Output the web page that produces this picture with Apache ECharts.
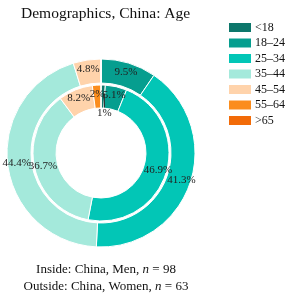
<!DOCTYPE html>
<html><head><meta charset="utf-8">
<script src="https://cdn.jsdelivr.net/npm/echarts@6/dist/echarts.min.js"></script>
<style>html,body{margin:0;padding:0;background:#fff}#c{width:288px;height:293px}</style>
</head><body><div id="c"></div>
<script>
var categories = ['<18', '18–24', '25–34', '35–44', '45–54', '55–64', '>65'];
var colors = ['#0d776b', '#069e8f', '#02c6b6', '#a4e9db', '#ffd3ab', '#fb8d1d', '#f26b08'];
var menValues = [1, 5, 46, 36, 8, 2, 0];      // inside, n = 98
var womenValues = [0, 6, 26, 28, 3, 0, 0];    // outside, n = 63

function sum(a){ return a.reduce(function(s,v){return s+v;},0); }
function pctText(v, total){
  var s = (v/total*100).toFixed(1);
  if (s.slice(-2) === '.0') s = s.slice(0, -2);
  return s + '%';
}
function buildData(vals){
  return vals.map(function(v,i){ return {name: categories[i], value: v, itemStyle:{color: colors[i]}}; });
}
var FONT = '"Liberation Serif", "DejaVu Serif", serif';
var chart = echarts.init(document.getElementById('c'));
var menTotal = sum(menValues), womenTotal = sum(womenValues);

chart.setOption({
  animation: false,
  title: [{
    text: 'Demographics, China: Age',
    left: 16, top: 1,
    textStyle: {fontFamily: FONT, fontSize: 15.5, fontWeight: 'normal', color: '#111'}
  }, {
    text: '{a|Inside: China, Men, }{i|n}{a| = ' + menTotal + '}\n{a|Outside: China, Women, }{i|n}{a| = ' + womenTotal + '}',
    left: 101, top: 256, textAlign: 'center',
    textStyle: {
      fontWeight: 'normal',
      rich: {
        a: {fontFamily: FONT, fontSize: 13, fontWeight: 'normal', color: '#111', lineHeight: 17},
        i: {fontFamily: FONT, fontSize: 13, fontWeight: 'normal', fontStyle: 'italic', color: '#111', lineHeight: 17}
      }
    }
  }],
  legend: {
    orient: 'vertical', left: 227, top: 21, width: 61, padding: 0,
    itemWidth: 24, itemHeight: 11, itemGap: 2.5,
    icon: 'rect',
    data: categories,
    textStyle: {fontFamily: FONT, fontSize: 12, color: '#111', padding: [0,0,0,-2], overflow: 'none', width: 40}
  },
  series: [{
    name: 'Women', type: 'pie', radius: [70, 94], center: [101, 153],
    startAngle: 90, clockwise: true, silent: true,
    itemStyle: {borderColor: '#fff', borderWidth: 1},
    label: {
      position: 'inside', rotate: 0, fontFamily: FONT, fontSize: 11, color: '#222',
      formatter: function(p){ return p.value ? pctText(p.value, womenTotal) : ''; }
    },
    labelLine: {show: false},
    data: buildData(womenValues)
  }, {
    name: 'Men', type: 'pie', radius: [45, 68], center: [101, 153],
    startAngle: 90, clockwise: true, silent: true,
    itemStyle: {borderColor: '#fff', borderWidth: 1},
    label: {
      position: 'inside', rotate: 0, fontFamily: FONT, fontSize: 11, color: '#222',
      formatter: function(p){
        if (!p.value) return '';
        var s = pctText(p.value, menTotal);
        if (p.dataIndex === 0) return '{bar| }\n' + s;
        return s;
      },
      rich: {bar: {width: 1, height: 14, fontSize: 1, lineHeight: 14, backgroundColor: '#222'}}
    },
    labelLayout: function(p){ if (p.dataIndex === 0) return {dx: 1.5, dy: 12.5}; return {}; },
    labelLine: {show: false},
    data: buildData(menValues)
  }]
});
</script></body></html>
